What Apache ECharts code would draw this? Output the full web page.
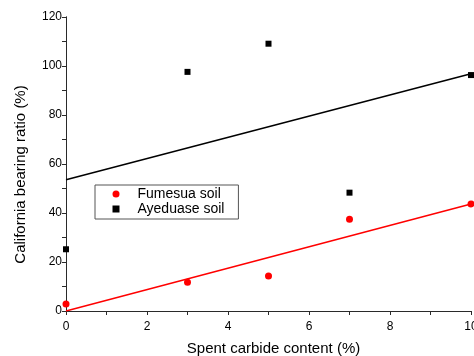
<!DOCTYPE html>
<html><head><meta charset="utf-8">
<script src="https://cdn.jsdelivr.net/npm/echarts@6/dist/echarts.min.js"></script>
<style>html,body{margin:0;padding:0;background:#fff}#c{width:474px;height:356px}</style>
</head><body><div id="c"></div>
<script>
var xValues = [0, 3, 5, 7, 10];
var fumesua = [2.9, 11.7, 14.3, 37.4, 43.7];
var ayeduase = [25.2, 97.6, 109.1, 48.3, 96.3];
var fitX = [0, 10];
var fumesuaFit = [0, 43.7];
var ayeduaseFit = [53.6, 96.8];
var seriesNames = ['Fumesua soil', 'Ayeduase soil'];
var xTitle = 'Spent carbide content (%)';
var yTitle = 'California bearing ratio (%)';

function pairs(xs, ys){ return xs.map(function(x,i){return [x, ys[i]];}); }
var font = 'Liberation Sans, Arial, sans-serif';
var axisCol = '#2a2a2a';
var chart = echarts.init(document.getElementById('c'));
chart.setOption({
  animation: false,
  backgroundColor: '#fff',
  textStyle: {fontFamily: font},
  grid: {left: 66, right: 3, top: 17, bottom: 45, containLabel: false, outerBoundsMode: 'none'},
  legend: {
    orient: 'vertical', left: 95, top: 185,
    data: [{name: seriesNames[0], icon: 'circle'}, {name: seriesNames[1], icon: 'rect'}],
    itemWidth: 7, itemHeight: 7, itemGap: 0,
    padding: [1.5, 14, 2.5, 17.5],
    borderColor: '#555', borderWidth: 1,
    textStyle: {fontFamily: font, fontSize: 14, lineHeight: 15, color: '#000', padding: [0, 0, 0, 13]}
  },
  xAxis: [{
    type: 'value', min: 0, max: 10, interval: 2, position: 'bottom',
    name: xTitle, nameLocation: 'middle', nameGap: 30,
    nameTextStyle: {fontFamily: font, fontSize: 15, color: '#000', padding: [0, 0, 0, 10]},
    axisLine: {show: true, lineStyle: {color: axisCol, width: 1}},
    axisTick: {show: true, inside: false, length: 4, lineStyle: {color: axisCol}},
    minorTick: {show: true, splitNumber: 2, length: 3, lineStyle: {color: axisCol}},
    axisLabel: {fontFamily: font, fontSize: 12, color: '#000', margin: 10},
    splitLine: {show: false}
  }, {
    type: 'value', min: 0, max: 10, interval: 1, position: 'top',
    axisLine: {show: true, lineStyle: {color: axisCol, width: 1}},
    axisTick: {show: true, inside: true, length: 4, lineStyle: {color: axisCol}},
    axisLabel: {show: false}, splitLine: {show: false}
  }],
  yAxis: [{
    type: 'value', min: 0, max: 120, interval: 20, position: 'left',
    name: yTitle, nameLocation: 'middle', nameGap: 38, nameRotate: 90,
    nameTextStyle: {fontFamily: font, fontSize: 15, color: '#000', padding: [0, 21, 0, 0]},
    axisLine: {show: true, lineStyle: {color: axisCol, width: 1}},
    axisTick: {show: true, inside: false, length: 4, lineStyle: {color: axisCol}},
    minorTick: {show: true, splitNumber: 2, length: 3, lineStyle: {color: axisCol}},
    axisLabel: {fontFamily: font, fontSize: 12, color: '#000', margin: 4},
    splitLine: {show: false}
  }, {
    type: 'value', min: 0, max: 120, interval: 10, position: 'right',
    axisLine: {show: true, lineStyle: {color: axisCol, width: 1}},
    axisTick: {show: true, inside: true, length: 4, lineStyle: {color: axisCol}},
    axisLabel: {show: false}, splitLine: {show: false}
  }],
  series: [{
    name: seriesNames[0] + ' fit', type: 'line', data: pairs(fitX, fumesuaFit),
    symbol: 'none', lineStyle: {color: '#ff0000', width: 1.5}, silent: true, z: 2
  }, {
    name: seriesNames[1] + ' fit', type: 'line', data: pairs(fitX, ayeduaseFit),
    symbol: 'none', lineStyle: {color: '#000', width: 1.5}, silent: true, z: 2
  }, {
    name: seriesNames[0], type: 'scatter', data: pairs(xValues, fumesua),
    symbol: 'circle', symbolSize: 7, itemStyle: {color: '#ff0000', opacity: 1}, z: 3
  }, {
    name: seriesNames[1], type: 'scatter', data: pairs(xValues, ayeduase),
    symbol: 'rect', symbolSize: 6, itemStyle: {color: '#000', opacity: 1}, z: 3
  }]
});
</script></body></html>
